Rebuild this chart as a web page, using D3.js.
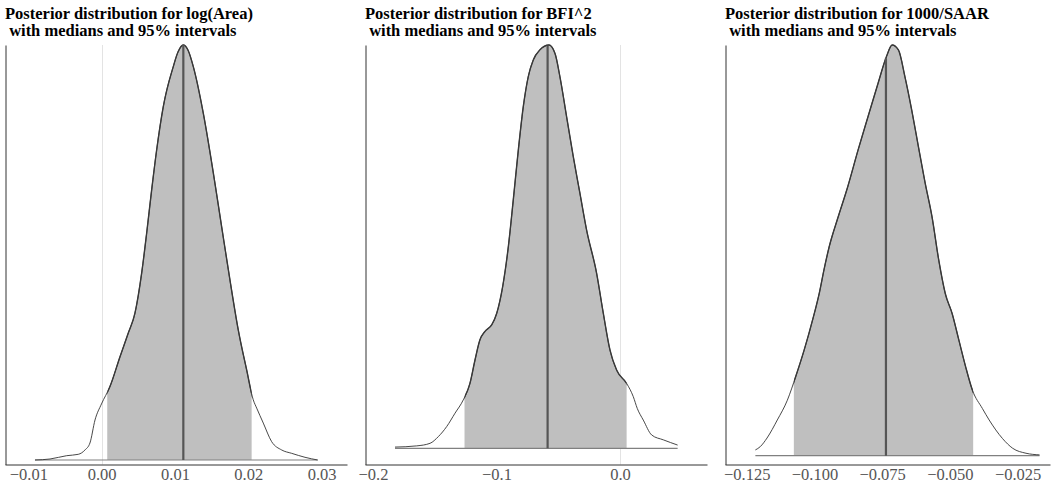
<!DOCTYPE html>
<html>
<head>
<meta charset="utf-8">
<script src="https://cdn.jsdelivr.net/npm/d3@7"></script>
<style>
  body { margin: 0; background: #fff; }
  svg { display: block; }
  text { font-family: "Liberation Serif", "Times New Roman", serif; }
</style>
</head>
<body>
<div id="chart"></div>
<script>
const width = 1055,
    height = 486;

// titles
const titles = [
    "Posterior distribution for log(Area)",
    "Posterior distribution for BFI^2",
    "Posterior distribution for 1000/SAAR"
];
const subtitle = " with medians and 95% intervals";

// posterior densities (relative height, peak = 1)
const areaX = [-0.0091, -0.00705, -0.00477, -0.00319, -0.00228, -0.0016, -0.00091, -0.00003, 0.00113, 0.0025,
    0.00363, 0.00454, 0.00546, 0.00614, 0.00682, 0.0075, 0.0084, 0.00977, 0.01041, 0.01113,
    0.01177, 0.0125, 0.01386, 0.01523, 0.01637, 0.0175, 0.01864, 0.01978, 0.02068, 0.02115,
    0.02205, 0.02319, 0.02456, 0.02592, 0.02774, 0.02947];
const areaDens = [0, 0.0024, 0.0104, 0.0137, 0.0241, 0.041, 0.0964, 0.135, 0.177, 0.249,
    0.306, 0.354, 0.451, 0.547, 0.651, 0.747, 0.851, 0.948, 0.983, 1.0,
    0.988, 0.948, 0.836, 0.692, 0.562, 0.434, 0.313, 0.217, 0.145, 0.125,
    0.089, 0.0442, 0.0241, 0.0161, 0.0065, 0];

const bfiX = [-0.1822, -0.1646, -0.1538, -0.1471, -0.1403, -0.1336, -0.1269, -0.1215, -0.1174, -0.1134,
    -0.1093, -0.1039, -0.0998, -0.095, -0.0904, -0.0864, -0.0823, -0.0783, -0.0743, -0.0702,
    -0.0648, -0.0575, -0.0526, -0.0486, -0.0432, -0.0378, -0.0324, -0.027, -0.0189, -0.0135,
    -0.0081, -0.0027, 0.0054, 0.0108, 0.014, 0.0189, 0.0257, 0.0351, 0.0467];
const bfiDens = [0.003, 0.006, 0.0124, 0.029, 0.054, 0.087, 0.12, 0.161, 0.219, 0.269,
    0.29, 0.306, 0.335, 0.401, 0.5, 0.616, 0.74, 0.847, 0.921, 0.963,
    0.988, 1.0, 0.979, 0.921, 0.822, 0.723, 0.632, 0.541, 0.434, 0.335,
    0.244, 0.194, 0.161, 0.128, 0.099, 0.07, 0.033, 0.021, 0.008];

const saarX = [-0.1218, -0.12, -0.1175, -0.1137, -0.11, -0.1069, -0.1038, -0.1007, -0.0982, -0.0964,
    -0.0945, -0.0914, -0.0877, -0.0839, -0.0802, -0.0765, -0.0734, -0.0713, -0.069, -0.0666,
    -0.0641, -0.0616, -0.0591, -0.0566, -0.0541, -0.0517, -0.0492, -0.0467, -0.0442, -0.0417,
    -0.038, -0.0355, -0.0306, -0.0268, -0.0219, -0.0169];
const saarDens = [0.014, 0.022, 0.043, 0.087, 0.135, 0.193, 0.257, 0.33, 0.396, 0.455,
    0.51, 0.578, 0.655, 0.744, 0.826, 0.907, 0.972, 1.0, 0.988, 0.923,
    0.842, 0.752, 0.663, 0.582, 0.476, 0.395, 0.347, 0.282, 0.217, 0.16,
    0.115, 0.087, 0.042, 0.018, 0.006, 0.002];

// medians and 95% intervals
const medians = [0.01114, -0.0586, -0.0736];
const lower95 = [0.00076, -0.1259, -0.1076];
const upper95 = [0.02046, 0.0054, -0.0414];

// tick values and labels
const ticks1 = [-0.01, 0, 0.01, 0.02, 0.03];
const labels1 = ["\u22120.01", "0.00", "0.01", "0.02", "0.03"];
const ticks2 = [-0.2, -0.1, 0];
const labels2 = ["\u22120.2", "\u22120.1", "0.0"];
const ticks3 = [-0.125, -0.1, -0.075, -0.05, -0.025];
const labels3 = ["\u22120.125", "\u22120.100", "\u22120.075", "\u22120.050", "\u22120.025"];

// panel layout
const panels = [
    {left: 5, right: 347, dom: [-0.01319, 0.03347], base: 460, xs: areaX, ds: areaDens, ticks: ticks1, labels: labels1},
    {left: 365, right: 707, dom: [-0.2065, 0.0705], base: 448.3, xs: bfiX, ds: bfiDens, ticks: ticks2, labels: labels2},
    {left: 725, right: 1050, dom: [-0.13301, -0.01304], base: 455.7, xs: saarX, ds: saarDens, ticks: ticks3, labels: labels3}
];

const plotTop = 45,
    axisY = 464.5;

let svg = d3.select("#chart").append("svg")
    .attr("width", width)
    .attr("height", height);

panels.forEach(function (p, i) {
    let g = svg.append("g");

    let x = d3.scaleLinear().domain(p.dom).range([p.left, p.right]);
    let y = d3.scaleLinear().domain([0, 1]).range([p.base, plotTop]);
    let pts = p.xs.map((v, j) => [v, p.ds[j]]);

    // gridline at zero
    if (p.dom[0] < 0 && p.dom[1] > 0) {
        g.append("line")
            .attr("x1", Math.round(x(0)) + 0.5)
            .attr("x2", Math.round(x(0)) + 0.5)
            .attr("y1", plotTop)
            .attr("y2", axisY)
            .attr("stroke", "#e3e3e3")
            .attr("stroke-width", 1);
    }

    let area = d3.area()
        .x(d => x(d[0]))
        .y0(y(0))
        .y1(d => y(d[1]))
        .curve(d3.curveMonotoneX);

    let line = d3.line()
        .x(d => x(d[0]))
        .y(d => y(d[1]))
        .curve(d3.curveMonotoneX);

    // clip to the 95% interval
    let clipId = "clip" + i;
    svg.append("clipPath").attr("id", clipId)
      .append("rect")
        .attr("x", x(lower95[i]))
        .attr("y", 0)
        .attr("width", x(upper95[i]) - x(lower95[i]))
        .attr("height", height);

    g.append("path")
        .attr("d", area(pts))
        .attr("fill", "#bfbfbf")
        .attr("clip-path", `url(#${clipId})`);

    // baseline
    g.append("line")
        .attr("x1", x(p.xs[0]))
        .attr("x2", x(p.xs[p.xs.length - 1]))
        .attr("y1", y(0))
        .attr("y2", y(0))
        .attr("stroke", "#808080")
        .attr("stroke-width", 1.2);

    // outline: thin outside, darker inside the interval
    g.append("path")
        .attr("d", line(pts))
        .attr("fill", "none")
        .attr("stroke", "#333")
        .attr("stroke-width", 0.9);

    g.append("path")
        .attr("d", line(pts))
        .attr("fill", "none")
        .attr("stroke", "#383838")
        .attr("stroke-width", 1.4)
        .attr("clip-path", `url(#${clipId})`);

    // median
    let medH = d3.scaleLinear().domain(p.xs).range(p.ds)(medians[i]);
    g.append("line")
        .attr("x1", x(medians[i]))
        .attr("x2", x(medians[i]))
        .attr("y1", y(0))
        .attr("y2", y(medH))
        .attr("stroke", "#555")
        .attr("stroke-width", 2.2);

    // x axis
    let xAxis = g.append("g")
        .attr("transform", `translate(0,${axisY})`)
        .call(d3.axisBottom(x)
            .tickValues(p.ticks)
            .tickFormat((d, j) => p.labels[j])
            .tickSize(0)
            .tickSizeOuter(0))
        .attr("font-family", "'Liberation Serif', serif")
        .attr("font-size", 16.5);
    xAxis.select(".domain").attr("stroke", "#333");
    xAxis.selectAll("text")
        .attr("y", 15.5)
        .attr("dy", 0)
        .attr("fill", "#555");

    // y axis (no ticks)
    let yAxisScale = d3.scaleLinear().domain([0, 1]).range([axisY, plotTop]);
    let yAxis = g.append("g")
        .attr("transform", `translate(${p.left + 0.5},0)`)
        .call(d3.axisLeft(yAxisScale).tickValues([]).tickSizeOuter(0));
    yAxis.select(".domain").attr("stroke", "#333");

    // title
    let t = g.append("text")
        .attr("x", p.left)
        .attr("y", 19)
        .style("font-size", "16.5px")
        .style("font-weight", "bold")
        .style("white-space", "pre")
        .attr("fill", "#000");
    t.append("tspan").attr("x", p.left).attr("y", 19).text(titles[i]);
    t.append("tspan").attr("x", p.left).attr("y", 36).text(subtitle);
});
</script>
</body>
</html>
